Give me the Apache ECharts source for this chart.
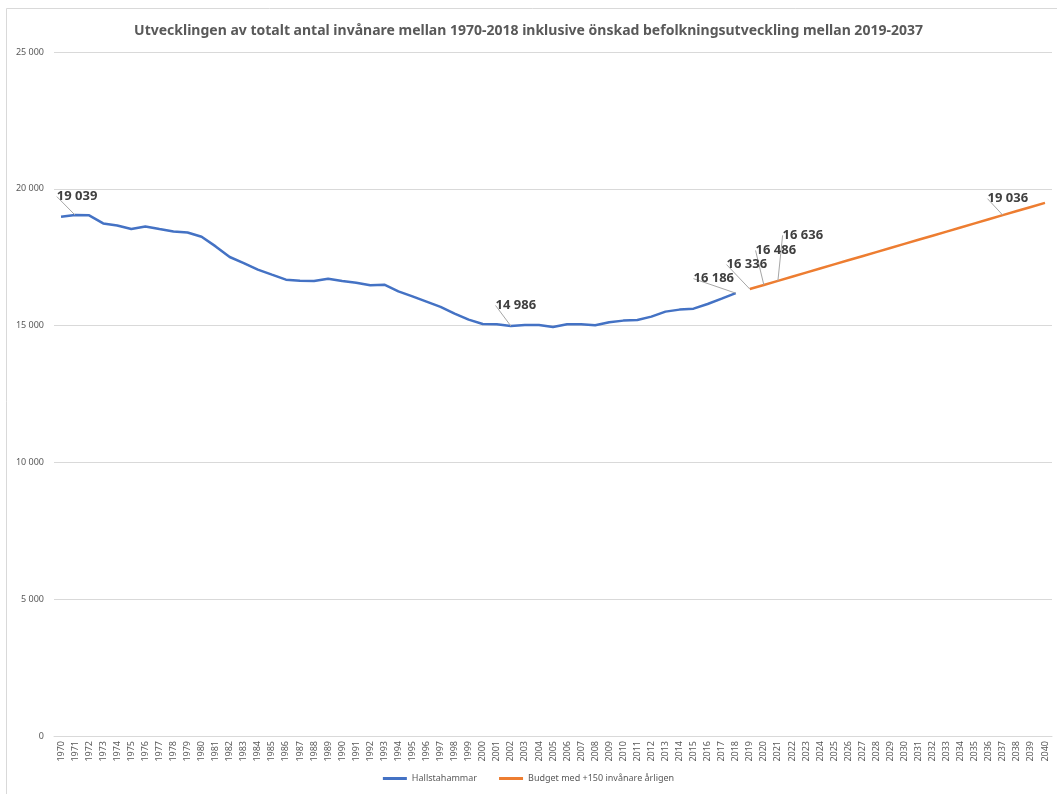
<!DOCTYPE html>
<html>
<head>
<meta charset="utf-8">
<script src="https://cdn.jsdelivr.net/npm/echarts@6/dist/echarts.min.js"></script>
<style>
  html, body { margin: 0; padding: 0; background: #fff; }
  #chart { width: 1057px; height: 794px; }
</style>
</head>
<body>
<div id="chart"></div>
<script>
// år 1970-2040
const years = [];
for (let y = 1970; y <= 2040; y++) years.push(String(y));

// Hallstahammar 1970-2018 (avläst)
const hallstahammar = [
  18980, 19039, 19030, 18734, 18660, 18529, 18625, 18529, 18442, 18405,
  18248, 17895, 17507, 17287, 17044, 16861, 16680, 16642, 16630, 16715,
  16630, 16569, 16472, 16496, 16253, 16070, 15876, 15682, 15438, 15219,
  15061, 15049, 14986, 15020, 15024, 14951, 15049, 15049, 15012, 15122,
  15182, 15207, 15328, 15511, 15584, 15620, 15791, 15985, 16186
];

// Budget med +150 invånare årligen 2019-2040
const budget = [
  16336, 16486, 16636, 16786, 16936, 17086, 17236, 17386, 17536, 17686,
  17836, 17986, 18136, 18286, 18436, 18586, 18736, 18886, 19036, 19186,
  19336, 19486
];

const seriesNames = ['Hallstahammar', 'Budget med +150 invånare årligen'];

// år som får etikett, förskjutning [dx, dy]
const blueLabelYears = { '1971': [2, -8], '2002': [5, -10], '2018': [-22, -4] };
const orangeLabelYears = { '2019': [-3, -14], '2020': [12, -24], '2021': [25, -35], '2037': [5, -6] };

const blueData = years.map((y, i) => i < hallstahammar.length ? hallstahammar[i] : null);
const orangeData = years.map((y, i) => {
  const k = i - hallstahammar.length;
  return k >= 0 ? budget[k] : null;
});

const fmt = v => String(v).replace(/\B(?=(\d{3})+(?!\d))/g, ' ');

const labelStyle = {
  fontFamily: 'Noto Sans',
  fontWeight: 'bold',
  fontSize: 13,
  color: '#404040'
};

const chart = echarts.init(document.getElementById('chart'));

const makeSeries = (name, data, color, labelYears) => ({
  name: name,
  type: 'line',
  data: data.map((v, i) => ({
    value: v,
    label: { show: labelYears[years[i]] !== undefined }
  })),
  symbol: 'circle',
  symbolSize: 0,
  showSymbol: true,
  lineStyle: { color: color, width: 2.5 },
  itemStyle: { color: color },
  label: Object.assign({ show: false, position: 'top', distance: 4, formatter: p => fmt(p.value) }, labelStyle),
  labelLine: { show: true, lineStyle: { color: '#a6a6a6', width: 1 } },
  labelLayout: p => {
    const d = labelYears[years[p.dataIndex]];
    return d ? { dx: d[0], dy: d[1] } : {};
  },
  emphasis: { disabled: true }
});

const option = {
  backgroundColor: '#fff',
  textStyle: { fontFamily: 'Noto Sans' },
  title: {
    text: 'Utvecklingen av totalt antal invånare mellan 1970-2018 inklusive önskad befolkningsutveckling mellan 2019-2037',
    left: 'center',
    top: 19,
    textStyle: {
      fontFamily: 'Noto Sans',
      fontSize: 14,
      fontWeight: 'bold',
      color: '#595959'
    }
  },
  graphic: [{
    type: 'rect',
    shape: { x: 6.5, y: 8.5, width: 1100, height: 900 },
    style: { fill: null, stroke: '#d9d9d9', lineWidth: 1 },
    silent: true
  }],
  legend: {
    bottom: 6,
    left: 'center',
    itemWidth: 24,
    itemHeight: 3,
    itemGap: 22,
    icon: 'rect',
    textStyle: { fontSize: 9, color: '#595959' },
    data: seriesNames
  },
  grid: { left: 54, right: 5, top: 52, bottom: 58 },
  xAxis: {
    type: 'category',
    data: years,
    boundaryGap: true,
    axisLine: { lineStyle: { color: '#d9d9d9' } },
    axisTick: { show: false },
    axisLabel: {
      rotate: 90,
      interval: 0,
      fontSize: 9,
      color: '#595959',
      margin: 5
    }
  },
  yAxis: {
    type: 'value',
    min: 0,
    max: 25000,
    interval: 5000,
    axisLine: { show: false },
    axisTick: { show: false },
    splitLine: { lineStyle: { color: '#d9d9d9' } },
    axisLabel: {
      fontSize: 9,
      color: '#595959',
      margin: 10,
      formatter: v => fmt(v)
    }
  },
  series: [
    makeSeries(seriesNames[0], blueData, '#4472C4', blueLabelYears),
    makeSeries(seriesNames[1], orangeData, '#ED7D31', orangeLabelYears)
  ]
};

chart.setOption(option);
</script>
</body>
</html>
